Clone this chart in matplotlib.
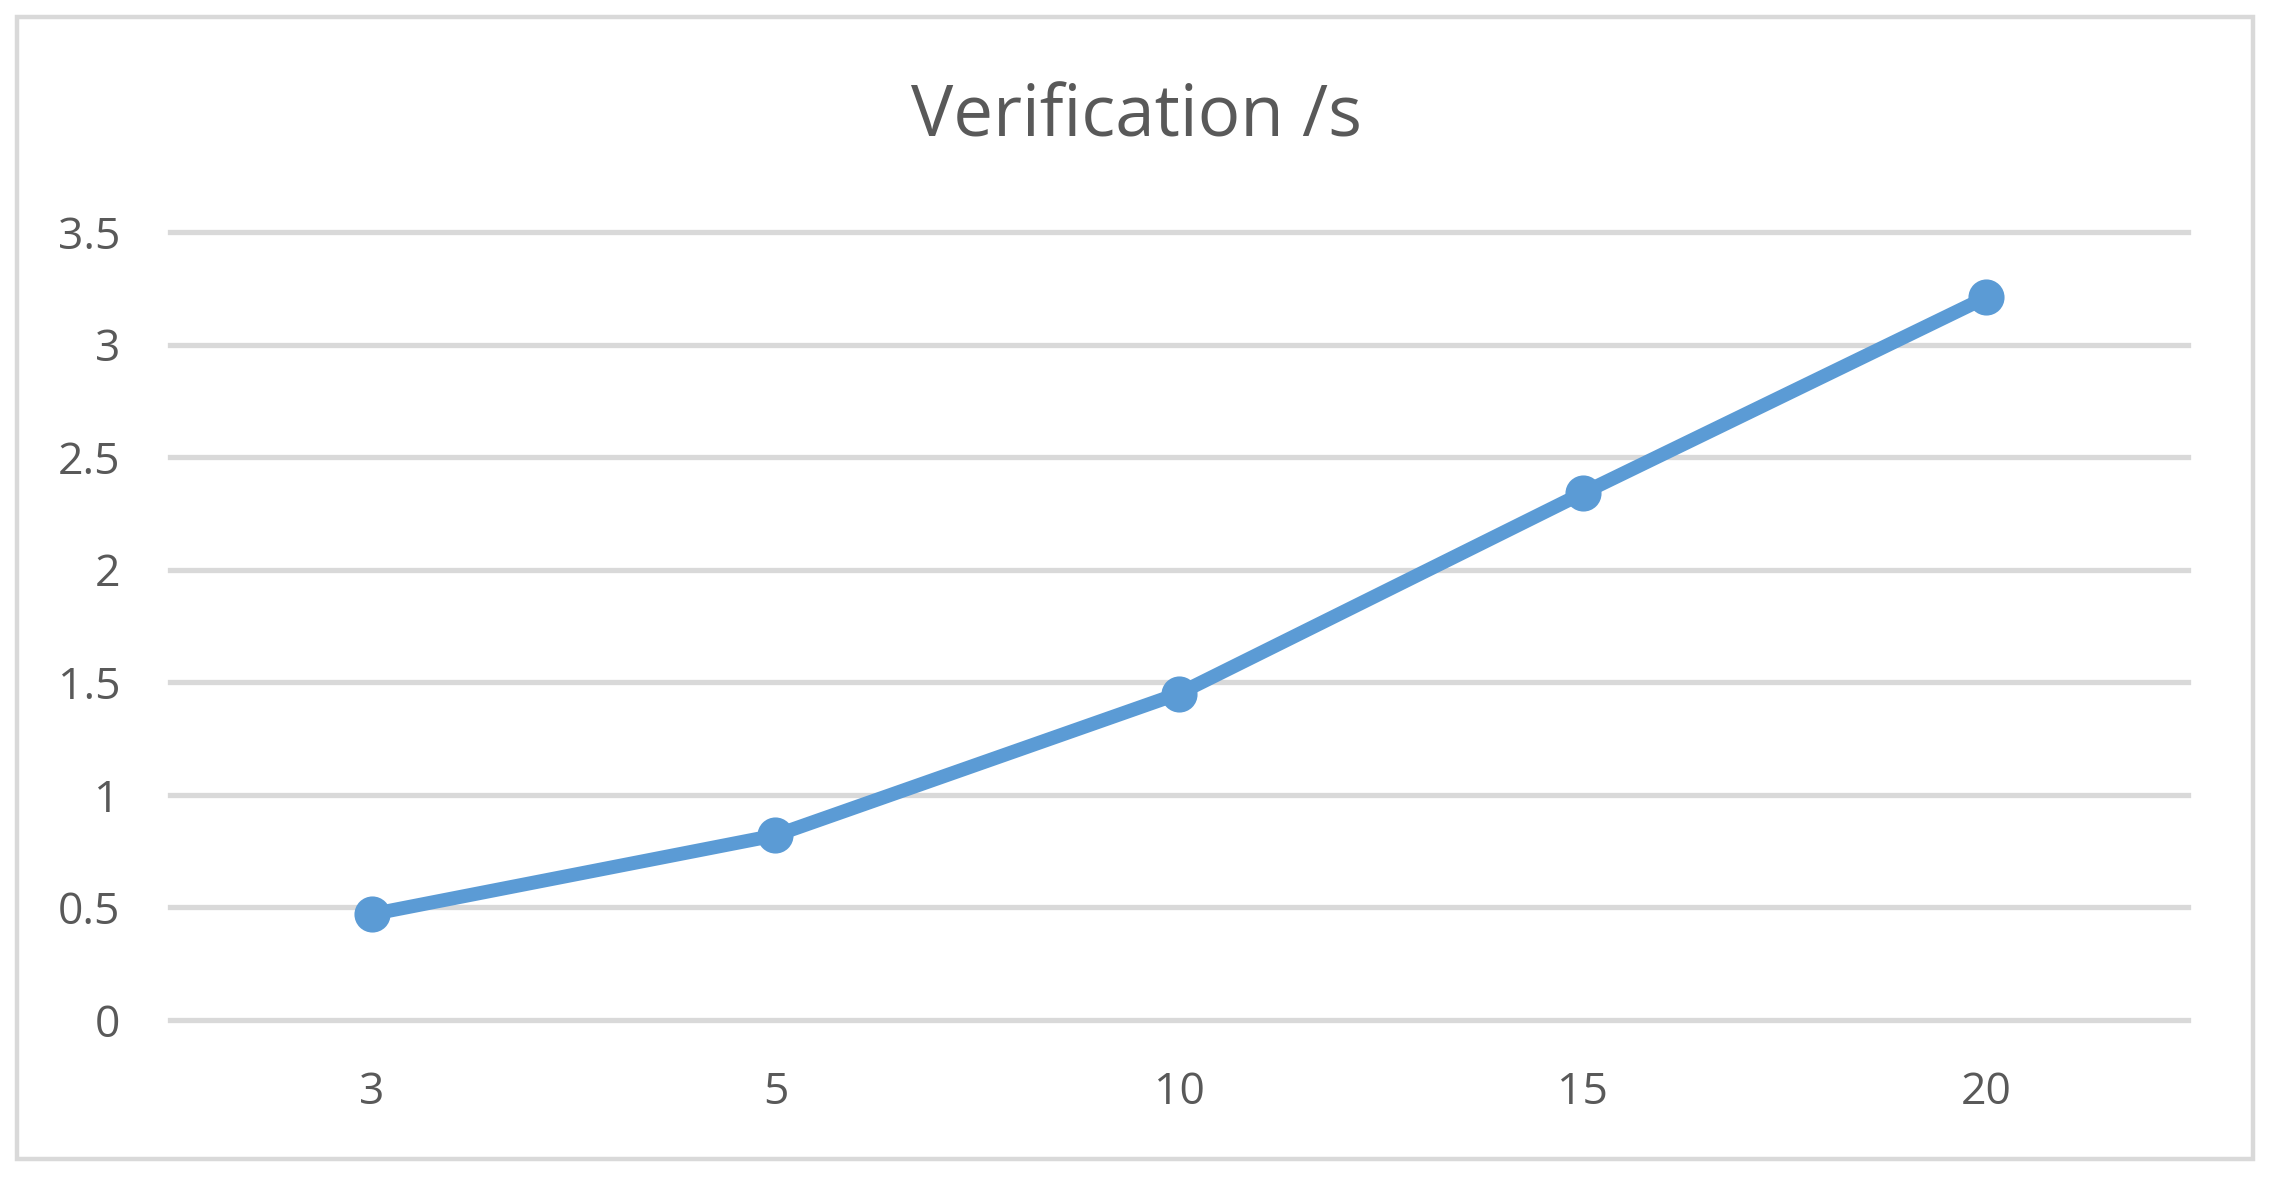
import matplotlib
matplotlib.use("Agg")
import matplotlib.pyplot as plt
from matplotlib.patches import Rectangle

categories = ["3", "5", "10", "15", "20"]
values = [0.47, 0.82, 1.45, 2.34, 3.21]
yticks = [0, 0.5, 1, 1.5, 2, 2.5, 3, 3.5]
ytick_labels = ["0", "0.5", "1", "1.5", "2", "2.5", "3", "3.5"]
title = "Verification /s"

W, H, DPI = 2272, 1180, 200
plt.rcParams['font.family'] = ['Open Sans', 'DejaVu Sans']
fig = plt.figure(figsize=(W / DPI, H / DPI), dpi=DPI)
fig.patch.set_facecolor("white")

# outer frame
fig.patches.append(Rectangle((17 / W, 21 / H), (2253 - 17) / W, (1163 - 21) / H,
                             transform=fig.transFigure, fill=False,
                             edgecolor="#D9D9D9", linewidth=1.6))

ax = fig.add_axes([170 / W, 160 / H, (2188 - 170) / W, (1020 - 232) / H])
x = list(range(len(categories)))
ax.plot(x, values, color="#5B9BD5", linewidth=5.0, marker="o", markersize=12,
        solid_capstyle="round", zorder=3)
ax.set_xlim(-0.5, len(categories) - 0.5)
ax.set_ylim(0, 3.5)
ax.set_xticks(x)
ax.set_xticklabels(categories)
ax.set_yticks(yticks)
ax.set_yticklabels(ytick_labels)
ax.grid(axis="y", color="#D9D9D9", linewidth=1.9, zorder=0)
for gl in ax.get_ygridlines():
    gl.set_clip_on(False)
ax.set_axisbelow(True)
for s in ax.spines.values():
    s.set_visible(False)
ax.tick_params(axis="both", length=0, labelsize=16, labelcolor="#595959")
ax.tick_params(axis="x", pad=18)
ax.tick_params(axis="y", pad=18)

fig.text(0.5, 1 - 118 / H, title, ha="center", va="center", fontsize=25.5, color="#595959")

fig.savefig("out.png", dpi=DPI, facecolor="white")
